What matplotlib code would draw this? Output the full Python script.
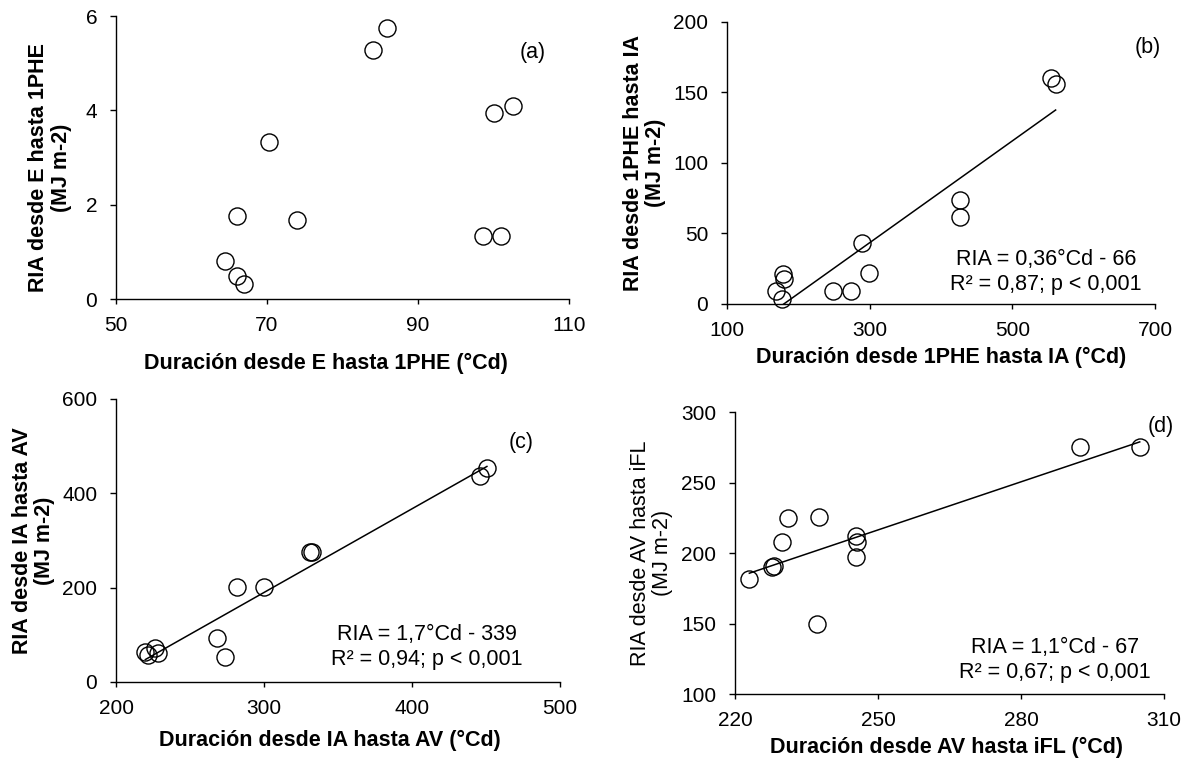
import matplotlib.pyplot as plt
import numpy as np

plt.rcParams['font.family'] = ['Liberation Sans', 'DejaVu Sans']

# (a) E -> 1PHE
a_x = [85.9, 84.0, 102.6, 100.0, 70.2, 66.0, 74.0, 98.6, 101.0, 64.4, 66.0, 67.0]
a_y = [5.75, 5.27, 4.09, 3.94, 3.32, 1.76, 1.67, 1.33, 1.33, 0.80, 0.49, 0.32]

# (b) 1PHE -> IA
b_x = [554.2, 560.7, 427.3, 427.3, 289.0, 299.8, 178.8, 180.0, 168.6, 248.5, 273.4, 177.2]
b_y = [160.6, 155.9, 73.6, 61.6, 43.2, 21.9, 21.5, 17.7, 9.4, 9.4, 9.4, 3.8]

# (c) IA -> AV
c_x = [450.6, 445.9, 330.9, 332.7, 282.0, 299.9, 268.4, 273.6, 219.8, 221.6, 226.3, 228.1]
c_y = [453.7, 437.5, 274.9, 274.9, 200.7, 200.7, 93.3, 53.0, 62.9, 57.2, 71.4, 61.5]

# (d) AV -> iFL
d_x = [292.4, 304.9, 237.7, 231.1, 229.8, 227.7, 228.1, 223.0, 245.3, 245.6, 245.4, 237.1]
d_y = [275.1, 275.1, 225.9, 224.5, 207.5, 190.4, 190.6, 181.4, 212.2, 207.5, 197.5, 149.9]

panels = [
    dict(x=a_x, y=a_y, pos=[0.0976, 0.608, 0.381, 0.371], xlim=(50, 110), xt=[50, 70, 90, 110],
         ylim=(0, 6), yt=[0, 2, 4, 6], tag='(a)', tagpos=(0.92, 0.87), fit=False,
         xlab='Duración desde E hasta 1PHE (°Cd)', xlc=(0.464, -0.226),
         ylab='RIA desde E hasta 1PHE\n(MJ m-2)', ylc=(-0.146, 0.465), bold=True),
    dict(x=b_x, y=b_y, pos=[0.6114, 0.6016, 0.360, 0.3696], xlim=(100, 700), xt=[100, 300, 500, 700],
         ylim=(0, 200), yt=[0, 50, 100, 150, 200], tag='(b)', tagpos=(0.984, 0.911), fit=True,
         eq='RIA = 0,36°Cd - 66\nR² = 0,87; p < 0,001', eqpos=(0.745, 0.115),
         xlab='Duración desde 1PHE hasta IA (°Cd)', xlc=(0.5, -0.191),
         ylab='RIA desde 1PHE hasta IA\n(MJ m-2)', ylc=(-0.193, 0.5), bold=True),
    dict(x=c_x, y=c_y, pos=[0.0976, 0.1062, 0.3734, 0.3709], xlim=(200, 500), xt=[200, 300, 400, 500],
         ylim=(0, 600), yt=[0, 200, 400, 600], tag='(c)', tagpos=(0.912, 0.845), fit=True,
         eq='RIA = 1,7°Cd - 339\nR² = 0,94; p < 0,001', eqpos=(0.70, 0.124),
         xlab='Duración desde IA hasta AV (°Cd)', xlc=(0.482, -0.205),
         ylab='RIA desde IA hasta AV\n(MJ m-2)', ylc=(-0.186, 0.5), bold=True),
    dict(x=d_x, y=d_y, pos=[0.6182, 0.0904, 0.3608, 0.3696], xlim=(220, 310), xt=[220, 250, 280, 310],
         ylim=(100, 300), yt=[100, 150, 200, 250, 300], tag='(d)', tagpos=(0.993, 0.947), fit=True,
         eq='RIA = 1,1°Cd - 67\nR² = 0,67; p < 0,001', eqpos=(0.746, 0.122),
         xlab='Duración desde AV hasta iFL (°Cd)', xlc=(0.494, -0.191),
         ylab='RIA desde AV hasta iFL\n(MJ m-2)', ylc=(-0.195, 0.5), bold=False),
]

fig = plt.figure(figsize=(11.89, 7.63), dpi=100)

for p in panels:
    ax = fig.add_axes(p['pos'])
    x = np.array(p['x'])
    y = np.array(p['y'])
    if p['fit']:
        k, b = np.polyfit(x, y, 1)
        xx = np.array([x.min(), x.max()])
        ax.plot(xx, k * xx + b, color='black', lw=1.1, zorder=2)
    ax.plot(x, y, 'o', ms=12.3, mfc='none', mec='black', mew=1.0, clip_on=False, zorder=3)
    ax.set_xlim(p['xlim'])
    ax.set_ylim(p['ylim'])
    ax.set_xticks(p['xt'])
    ax.set_yticks(p['yt'])
    for s in ['top', 'right']:
        ax.spines[s].set_visible(False)
    for s in ['left', 'bottom']:
        ax.spines[s].set_linewidth(1.0)
    ax.tick_params(axis='y', direction='out', length=4.5, width=1.0, labelsize=15, pad=9)
    ax.tick_params(axis='x', direction='out', length=3.5, width=1.0, labelsize=15, pad=8.5)
    ax.set_xlabel(p['xlab'], fontsize=15.5, fontweight='bold', va='center')
    ax.xaxis.set_label_coords(*p['xlc'])
    ax.set_ylabel(p['ylab'], fontsize=15.5, fontweight='bold' if p['bold'] else 'normal',
                  linespacing=1.1, va='center')
    ax.yaxis.set_label_coords(*p['ylc'])
    ax.text(p['tagpos'][0], p['tagpos'][1], p['tag'], transform=ax.transAxes,
            fontsize=15.5, ha='center', va='center')
    if 'eq' in p:
        ax.text(p['eqpos'][0], p['eqpos'][1], p['eq'], transform=ax.transAxes,
                fontsize=15.5, ha='center', va='center', linespacing=1.25)

fig.savefig('out.png', dpi=100)
